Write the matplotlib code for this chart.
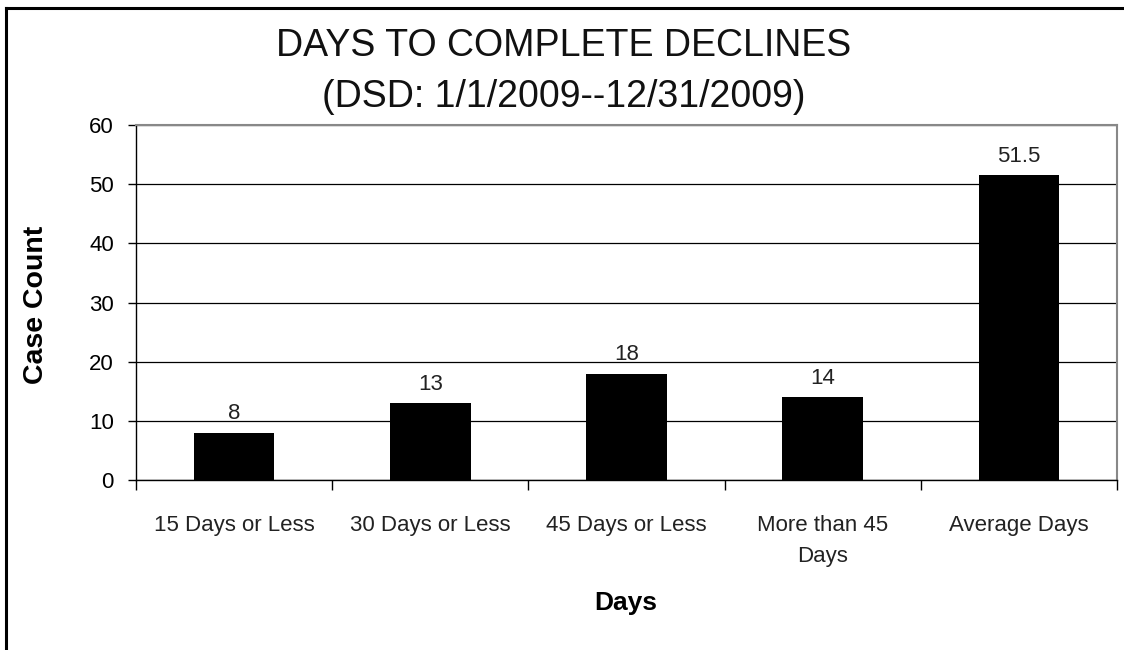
import matplotlib.pyplot as plt
from matplotlib.lines import Line2D

categories = ['15 Days or Less', '30 Days or Less', '45 Days or Less',
              'More than 45\nDays', 'Average Days']
values = [8, 13, 18, 14, 51.5]
value_labels = ['8', '13', '18', '14', '51.5']
yticks = [0, 10, 20, 30, 40, 50, 60]

plt.rcParams['font.family'] = ['Liberation Sans', 'DejaVu Sans']

fig = plt.figure(figsize=(11.24, 6.5), dpi=100)
ax = fig.add_axes([136 / 1124, 1 - 480 / 650, 981 / 1124, 355 / 650])

x = range(len(categories))
ax.bar(x, values, width=0.41, color='black', zorder=3)
for xi, v, lab in zip(x, values, value_labels):
    ax.annotate(lab, (xi, v), xytext=(0, 6), textcoords='offset points',
                ha='center', va='bottom', fontsize=16, color='#222222')

ax.set_xlim(-0.5, len(categories) - 0.5)
ax.set_ylim(0, 60)
ax.set_yticks(yticks)
ax.yaxis.grid(True, color='black', linewidth=0.9, zorder=0)
ax.tick_params(axis='y', labelsize=16, length=6, width=1, pad=10, colors='black')

ax.set_xticks(list(x))
ax.set_xticklabels(categories, fontsize=16, linespacing=1.65, color='#222222')
ax.tick_params(axis='x', length=0, pad=25)
ax.set_xticks([i - 0.5 for i in range(len(categories) + 1)], minor=True)
ax.tick_params(axis='x', which='minor', length=7, width=1, direction='out')

for s in ['top', 'right']:
    ax.spines[s].set_color('#888888')
    ax.spines[s].set_linewidth(1.5)
for s in ['left', 'bottom']:
    ax.spines[s].set_color('black')
    ax.spines[s].set_linewidth(1)

fig.text(564 / 1124, 1 - 46 / 650, 'DAYS TO COMPLETE DECLINES', ha='center',
         va='center', fontsize=27, color='#111111')
fig.text(564 / 1124, 1 - 97 / 650, '(DSD: 1/1/2009--12/31/2009)', ha='center',
         va='center', fontsize=27, color='#111111')
fig.text(36 / 1124, 1 - 305 / 650, 'Case Count', rotation=90, ha='center',
         va='center', fontsize=20.5, fontweight='bold')
fig.text(626 / 1124, 1 - 603 / 650, 'Days', ha='center', va='center',
         fontsize=19, fontweight='bold')

# outer frame (left and top edges visible)
fig.add_artist(Line2D([6 / 1124, 6 / 1124], [0, 1 - 8 / 650], color='black',
                      linewidth=2.2, transform=fig.transFigure))
fig.add_artist(Line2D([6 / 1124, 1], [1 - 8 / 650, 1 - 8 / 650], color='black',
                      linewidth=2.2, transform=fig.transFigure))

fig.savefig('out.png', dpi=100)
